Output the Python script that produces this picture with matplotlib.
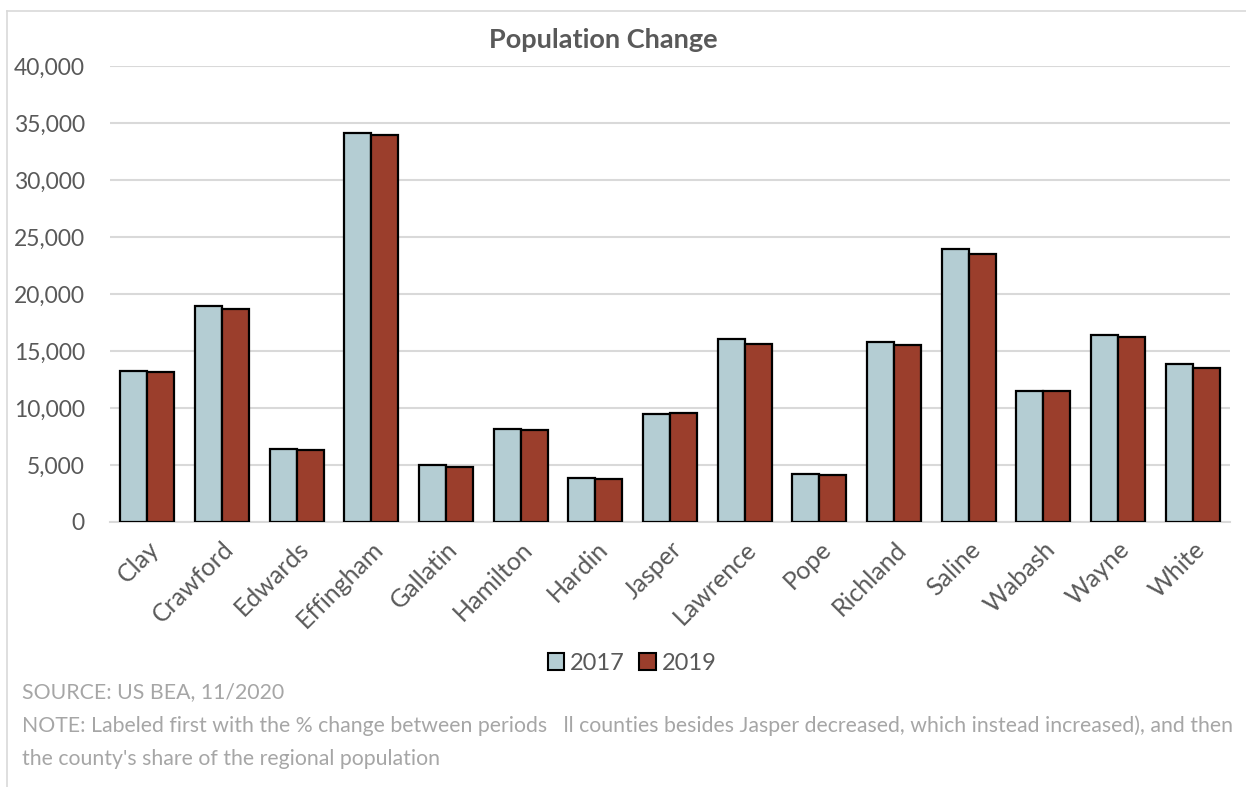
import matplotlib
matplotlib.use("Agg")
import matplotlib.pyplot as plt
import numpy as np
from matplotlib.patches import Patch
from matplotlib.lines import Line2D

counties = ["Clay", "Crawford", "Edwards", "Effingham", "Gallatin", "Hamilton", "Hardin",
            "Jasper", "Lawrence", "Pope", "Richland", "Saline", "Wabash", "Wayne", "White"]
pop_2017 = [13270, 18970, 6400, 34100, 5030, 8160, 3860, 9470, 16015, 4200, 15780, 23920, 11490, 16390, 13860]
pop_2019 = [13180, 18660, 6320, 33980, 4820, 8100, 3770, 9560, 15610, 4140, 15490, 23480, 11490, 16190, 13540]
series_labels = ["2017", "2019"]
y_ticks = [0, 5000, 10000, 15000, 20000, 25000, 30000, 35000, 40000]

c2017 = "#b4cdd3"
c2019 = "#9b3e2c"
grid_c = "#d9d9d9"
text_c = "#595959"

plt.rcParams['font.family'] = ['Lato', 'DejaVu Sans']

W, H = 1246, 787
fig = plt.figure(figsize=(W / 100, H / 100), dpi=100)
ax = fig.add_axes([110 / W, 1 - 522 / H, (1230 - 110) / W, (522 - 66) / H])

x = np.arange(len(counties))
bw = 0.36
ax.bar(x - bw / 2, pop_2017, bw, color=c2017, edgecolor="black", linewidth=1.6, zorder=3)
ax.bar(x + bw / 2, pop_2019, bw, color=c2019, edgecolor="black", linewidth=1.6, zorder=3)

ax.set_xlim(-0.5, len(counties) - 0.5)
ax.set_ylim(0, 40000)
ax.set_yticks(y_ticks)
ax.set_yticklabels([f"{v:,}" for v in y_ticks], fontsize=16.5, color=text_c)
ax.yaxis.grid(True, color=grid_c, linewidth=1.5, zorder=0)
ax.set_axisbelow(True)
for s in ["top", "right", "left"]:
    ax.spines[s].set_visible(False)
ax.spines["bottom"].set_color(grid_c)
ax.spines["bottom"].set_linewidth(1.5)
ax.tick_params(axis="both", length=0)
ax.tick_params(axis="y", pad=18)
ax.set_xticks(x)
ax.set_xticklabels(counties, rotation=45, ha="right", rotation_mode="anchor",
                   fontsize=18, color=text_c)
ax.tick_params(axis="x", pad=11)

fig.text(603 / W, 1 - 40 / H, "Population Change", ha="center", va="center",
         fontsize=19.5, fontweight="bold", color=text_c)

handles = [Patch(facecolor=c2017, edgecolor="black", linewidth=1.5),
           Patch(facecolor=c2019, edgecolor="black", linewidth=1.5)]
fig.legend(handles, series_labels, loc="center", bbox_to_anchor=(632 / W, 1 - 663 / H),
           ncol=2, frameon=False, fontsize=17, handlelength=0.7, handleheight=0.7,
           handletextpad=0.25, columnspacing=0.6, labelcolor=text_c)

foot_c = "#a6a6a6"
fs = 15.3
fig.text(22 / W, 1 - 692 / H, "SOURCE: US BEA, 11/2020", ha="left", va="center",
         fontsize=fs, color=foot_c)
fig.text(22 / W, 1 - 726 / H,
         "NOTE: Labeled first with the % change between periods   ll counties besides Jasper decreased, which instead increased), and then",
         ha="left", va="center", fontsize=fs, color=foot_c)
fig.text(22 / W, 1 - 759 / H, "the county's share of the regional population", ha="left", va="center",
         fontsize=fs, color=foot_c)

# chart border (top and left)
fig.add_artist(Line2D([7 / W, 7 / W], [0, 1 - 11 / H], transform=fig.transFigure, color=grid_c, linewidth=1.2))
fig.add_artist(Line2D([7 / W, 1], [1 - 11 / H, 1 - 11 / H], transform=fig.transFigure, color=grid_c, linewidth=1.2))

fig.savefig("out.png", dpi=100)
